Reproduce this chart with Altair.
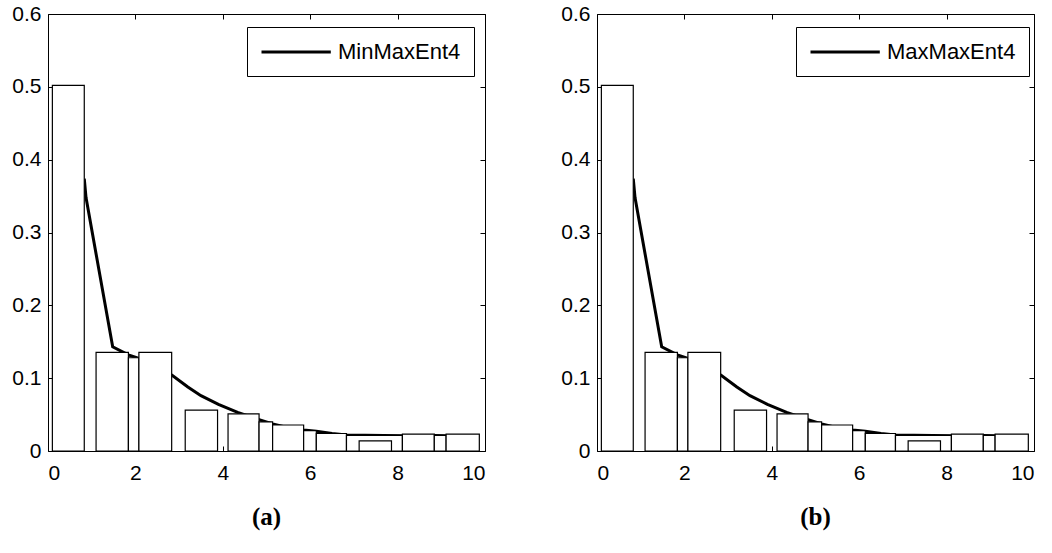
import altair as alt
import pandas as pd

# ---------------- data ----------------
bar_x0 = [0.10, 1.10, 1.84, 2.08, 3.14, 4.12, 4.83, 5.14, 5.85, 6.14, 6.83, 7.12, 8.11, 8.84, 9.11]
bar_x1 = [0.83, 1.84, 2.08, 2.83, 3.88, 4.83, 5.14, 5.85, 6.14, 6.83, 8.11, 7.86, 8.84, 9.11, 9.87]
bar_h = [0.502, 0.1355, 0.128, 0.1355, 0.056, 0.051, 0.040, 0.0357, 0.028, 0.024, 0.0215, 0.014, 0.0232, 0.0215, 0.0232]

line_x = [0.83, 0.87, 1.48, 1.84, 2.08, 2.50, 2.84, 3.20, 3.50, 3.90, 4.34, 4.83, 5.14, 5.50, 5.85, 6.14, 6.50, 6.83, 8.11, 8.84, 9.11, 9.87]
line_y = [0.374, 0.348, 0.143, 0.132, 0.127, 0.116, 0.104, 0.088, 0.076, 0.064, 0.053, 0.043, 0.037, 0.032, 0.029, 0.027, 0.024, 0.022, 0.021, 0.0212, 0.021, 0.021]

legend_names = ["MinMaxEnt4", "MaxMaxEnt4"]
panel_titles = ["(a)", "(b)"]
x_ticks = [0, 2, 4, 6, 8, 10]
y_ticks = [0, 0.1, 0.2, 0.3, 0.4, 0.5, 0.6]

W, H = 437, 437
FONT = "Liberation Sans"
INWARD = {"expr": "-5"}


def panel(name, title):
    bars = pd.DataFrame({"x0": bar_x0, "x1": bar_x1, "h": bar_h, "base": 0.0})
    line = pd.DataFrame({"x": line_x, "y": line_y, "series": name})
    xs = alt.Scale(domain=[0, 10], nice=False, zero=False)
    ys = alt.Scale(domain=[0, 0.6], nice=False, zero=False)

    line_layer = alt.Chart(line).mark_line(strokeWidth=3, color="black").encode(
        x=alt.X("x:Q", scale=xs, title=None,
                axis=alt.Axis(orient="bottom", values=x_ticks, format="d", tickSize=INWARD,
                              labelPadding=16, grid=False)),
        y=alt.Y("y:Q", scale=ys, title=None,
                axis=alt.Axis(orient="left", values=y_ticks, tickSize=INWARD,
                              labelExpr="datum.value == 0 ? '0' : format(datum.value, '.1f')",
                              labelPadding=12, grid=False)),
        stroke=alt.Stroke("series:N", scale=alt.Scale(range=["black"]),
                          legend=alt.Legend(title=None, orient="none", legendX=199, legendY=13,
                                            symbolType="M-1,0H5.6", symbolSize=441,
                                            symbolStrokeWidth=3, symbolStrokeColor="black",
                                            symbolFillColor="transparent",
                                            labelFont=FONT, labelFontSize=22, labelColor="black",
                                            labelOffset=54, padding=13, strokeColor="black",
                                            fillColor="white", cornerRadius=0)),
    )

    bar_layer = alt.Chart(bars).mark_rect(fill="white", stroke="black", strokeWidth=1.2).encode(
        x=alt.X("x0:Q", scale=xs, title=None,
                axis=alt.Axis(orient="top", values=x_ticks, labels=False, tickSize=INWARD, grid=False)),
        x2="x1:Q",
        y=alt.Y("h:Q", scale=ys, title=None,
                axis=alt.Axis(orient="right", values=y_ticks, labels=False, tickSize=INWARD, grid=False)),
        y2="base:Q",
    )

    return alt.layer(line_layer, bar_layer).resolve_axis(x="independent", y="independent").properties(
        width=W, height=H,
        title=alt.TitleParams(text=title, orient="bottom", font="Liberation Serif", fontSize=25,
                              fontWeight="bold", color="black", offset=22, anchor="middle",
                              frame="group"),
    )


chart = alt.hconcat(panel(legend_names[0], panel_titles[0]),
                    panel(legend_names[1], panel_titles[1]),
                    spacing=74).resolve_scale(stroke="independent").resolve_legend(stroke="independent")

chart = chart.properties(
    padding={"left": 11, "top": 3, "right": 5, "bottom": 5},
    background="white",
).configure_view(stroke=None).configure_axis(
    labelFont=FONT, labelFontSize=21, labelColor="black",
    domainColor="black", domainWidth=1, tickColor="black", tickWidth=1,
)

chart.save("out.html", embed_options={"renderer": "svg", "actions": False})
